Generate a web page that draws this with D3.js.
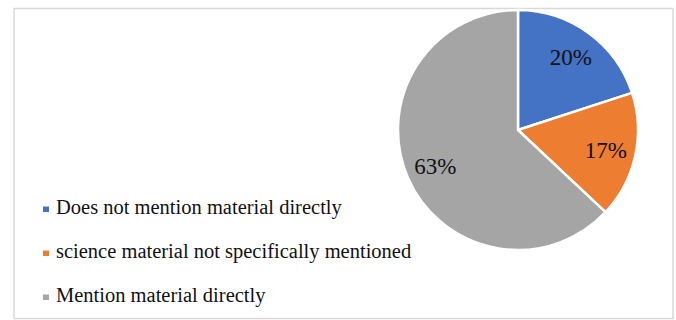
<!DOCTYPE html>
<html>
<head>
<meta charset="utf-8">
<script src="https://cdn.jsdelivr.net/npm/d3@7"></script>
<style>
  body { margin: 0; background: #fff; }
  svg text { font-family: "Liberation Serif", "DejaVu Serif", serif; fill: #111; }
</style>
</head>
<body>
<div id="chart_container"></div>
<script>
const categories = ["Does not mention material directly",
    "science material not specifically mentioned",
    "Mention material directly"];
const values = [20, 17, 63];
const slice_labels = ["20%", "17%", "63%"];
const colors = ["#4472c4", "#ed7d31", "#a5a5a5"];

const width = 676, height = 320;

const svg = d3.select("#chart_container")
    .append("svg")
    .attr("width", width)
    .attr("height", height);

// chart frame
svg.append("rect")
    .attr("x", 14)
    .attr("y", 8.5)
    .attr("width", 659)
    .attr("height", 310)
    .attr("fill", "#fff")
    .attr("stroke", "#d9d9d9")
    .attr("stroke-width", 1.5);

const radius = 120;
const pie_g = svg.append("g")
    .attr("transform", "translate(518, 130)");

const pie = d3.pie().sort(null).value(d => d);
const arc = d3.arc().innerRadius(0).outerRadius(radius);
const arcs = pie(values);

pie_g.selectAll("path")
    .data(arcs)
    .enter()
    .append("path")
    .attr("d", arc)
    .attr("fill", (d, i) => colors[i])
    .attr("stroke", "#fff")
    .attr("stroke-width", 2.5)
    .attr("stroke-linejoin", "round");

// labels sit at roughly 3/4 of the radius
const label_arc = d3.arc().innerRadius(radius * 0.75).outerRadius(radius * 0.75);
pie_g.selectAll(".slice_label")
    .data(arcs)
    .enter()
    .append("text")
    .classed("slice_label", true)
    .attr("transform", d => `translate(${label_arc.centroid(d)})`)
    .attr("text-anchor", "middle")
    .attr("dy", "0.35em")
    .style("font-size", "23px")
    .text((d, i) => slice_labels[i]);

// legend
const legend = svg.append("g")
    .attr("transform", "translate(43, 0)");

const rows = legend.selectAll(".legend_row")
    .data(categories)
    .enter()
    .append("g")
    .classed("legend_row", true)
    .attr("transform", (d, i) => `translate(0, ${214 + i * 44})`);

rows.append("rect")
    .attr("x", 0)
    .attr("y", -7.5)
    .attr("width", 6)
    .attr("height", 5.5)
    .attr("fill", (d, i) => colors[i]);

rows.append("text")
    .attr("x", 13)
    .attr("y", 0)
    .style("font-size", "20.5px")
    .text(d => d);
</script>
</body>
</html>
